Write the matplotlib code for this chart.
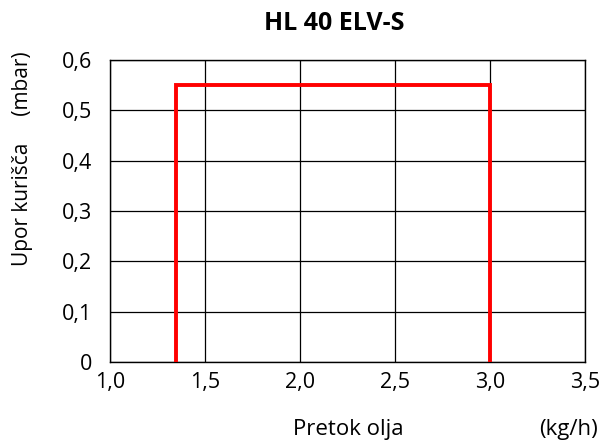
import matplotlib
matplotlib.use("Agg")
import matplotlib.pyplot as plt

plt.rcParams['font.family'] = ['Open Sans', 'DejaVu Sans']

# podatki
pretok = [1.35, 1.35, 3.0, 3.0]
upor = [0.0, 0.55, 0.55, 0.0]
x_ticks = [1.0, 1.5, 2.0, 2.5, 3.0, 3.5]
x_labels = ['1,0', '1,5', '2,0', '2,5', '3,0', '3,5']
y_ticks = [0, 0.1, 0.2, 0.3, 0.4, 0.5, 0.6]
y_labels = ['0', '0,1', '0,2', '0,3', '0,4', '0,5', '0,6']

fig = plt.figure(figsize=(6.01, 4.44), dpi=100)
ax = fig.add_axes([0.183, 0.1847, 0.790, 0.680])

ax.plot(pretok, upor, color='#ff0000', lw=2.8, solid_joinstyle='miter', zorder=3)

ax.set_xlim(1.0, 3.5)
ax.set_ylim(0, 0.6)
ax.set_xticks(x_ticks)
ax.set_xticklabels(x_labels)
ax.set_yticks(y_ticks)
ax.set_yticklabels(y_labels)
ax.tick_params(length=0, labelsize=15.5)
ax.tick_params(axis='y', pad=13)
ax.tick_params(axis='x', pad=7)
ax.grid(True, color='black', lw=0.9)
for s in ax.spines.values():
    s.set_linewidth(1.0)

fig.text(0.556, 0.946, 'HL 40 ELV-S', ha='center', va='center',
         fontsize=18, fontweight='bold')
fig.text(0.037, 0.642, 'Upor kurišča     (mbar)', rotation=90,
         ha='center', va='center', fontsize=15)
fig.text(0.579, 0.032, 'Pretok olja', ha='center', va='center', fontsize=16)
fig.text(0.995, 0.032, '(kg/h)', ha='right', va='center', fontsize=16)

fig.savefig('out.png', dpi=100)
